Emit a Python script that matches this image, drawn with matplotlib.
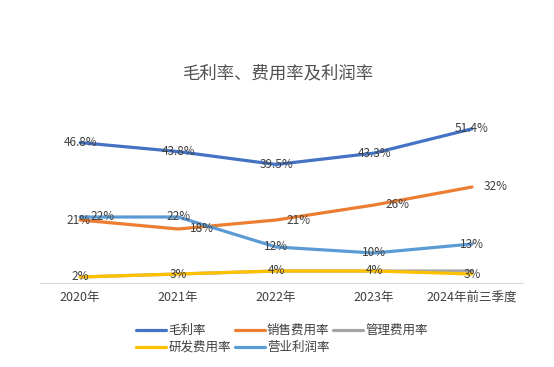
import matplotlib
matplotlib.use("Agg")
import matplotlib.pyplot as plt

plt.rcParams["font.family"] = ["Noto Sans CJK SC", "DejaVu Sans"]

# data
categories = ["2020年", "2021年", "2022年", "2023年", "2024年前三季度"]
gross_margin = [46.8, 43.8, 39.5, 43.3, 51.4]
selling_rate = [21, 18, 21, 26, 32]
admin_rate = [2, 3, 4, 4, 4]
rd_rate = [2, 3, 4, 4, 3]
operating_margin = [22, 22, 12, 10, 13]

gross_labels = ["46.8%", "43.8%", "39.5%", "43.3%", "51.4%"]

# label x-offsets (points), as the original labels were nudged
selling_dx = [-1.5, 17, 16.5, 16.5, 17]
operating_dx = [16, 0, 0, 0, 0]

fig = plt.figure(figsize=(5.54, 3.67), dpi=100)
ax = fig.add_axes([40 / 554, 1 - 283 / 367, 483 / 554, 180 / 367])

x = list(range(len(categories)))
series = [
    ("毛利率", gross_margin, "#4472C4"),
    ("销售费用率", selling_rate, "#ED7D31"),
    ("管理费用率", admin_rate, "#A5A5A5"),
    ("研发费用率", rd_rate, "#FFC000"),
    ("营业利润率", operating_margin, "#5B9BD5"),
]
lines = {}
for name, vals, color in series:
    (ln,) = ax.plot(x, vals, color=color, linewidth=2.3, label=name,
                    solid_capstyle="round")
    lines[name] = ln

lbl = dict(fontsize=8.5, color="#404040", ha="center", va="center",
           textcoords="offset points")
for i, v in enumerate(gross_margin):
    ax.annotate(gross_labels[i], (i, v), xytext=(0, 0), **lbl)
for i, v in enumerate(selling_rate):
    ax.annotate(f"{v}%", (i, v), xytext=(selling_dx[i], 0), **lbl)
for i, v in enumerate(operating_margin):
    ax.annotate(f"{v}%", (i, v), xytext=(operating_dx[i], 0), **lbl)
for i, v in enumerate(rd_rate):
    ax.annotate(f"{v}%", (i, v), xytext=(0, 0), **lbl)

ax.set_xlim(-0.41, 4.52)
ax.set_ylim(0, 60)
ax.set_xticks(x)
ax.set_xticklabels(categories, fontsize=9, color="#404040")
ax.set_yticks([])
ax.tick_params(axis="x", length=0, pad=6)
for side in ("top", "right", "left"):
    ax.spines[side].set_visible(False)
ax.spines["bottom"].set_color("#D9D9D9")
ax.spines["bottom"].set_linewidth(0.8)

fig.text(279 / 554, 1 - 73 / 367, "毛利率、费用率及利润率", fontsize=12.5,
         color="#505050", ha="center", va="center")

order = ["毛利率", "研发费用率", "销售费用率", "营业利润率", "管理费用率"]
fig.legend([lines[n] for n in order], order, ncol=3, frameon=False,
           loc="center", bbox_to_anchor=(282 / 554, 1 - 339 / 367),
           fontsize=9, handlelength=2.4, handletextpad=0.2,
           columnspacing=0.3, labelspacing=0.3, labelcolor="#404040")

fig.savefig("out.png", dpi=100)
